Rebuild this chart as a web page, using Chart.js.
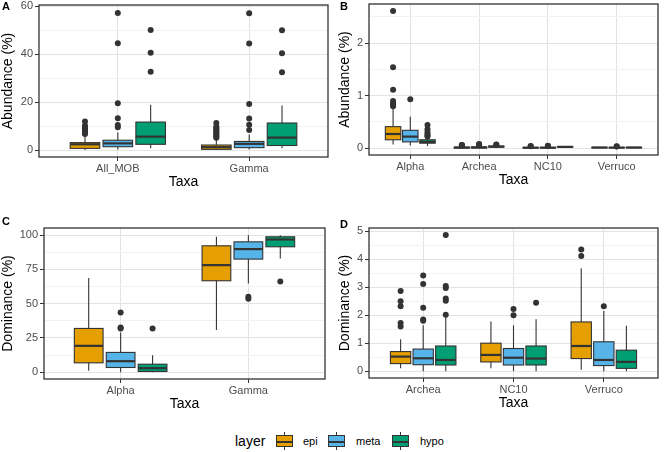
<!DOCTYPE html>
<html lang="en">
<head>
    <meta charset="UTF-8">
    <title>Abundance and dominance by layer</title>
    <script src="https://cdn.jsdelivr.net/npm/chart.js"></script>
    <style>
        body {
            margin: 0;
            width: 666px;
            height: 452px;
            background: #fff;
            position: relative;
            overflow: hidden;
            font-family: "Liberation Sans", Arial, sans-serif;
        }
        canvas { position: absolute; }
        .tag { position: absolute; font-weight: bold; font-size: 11px; color: #000; }
        .legend { position: absolute; top: 432px; height: 18px; font-size: 11px; color: #000; }
        .legend .title { position: absolute; left: 235px; top: 0; font-size: 14px; line-height: 18px; }
        .key { position: absolute; top: 0; width: 17px; height: 18px; }
        .key .whisker { position: absolute; left: 8px; width: 1px; top: 0; height: 18px; background: #333; }
        .key .box { position: absolute; left: 0; top: 3px; width: 15px; height: 10px; border: 1px solid #333; }
        .key .mid { position: absolute; left: 0; top: 5px; width: 15px; height: 2px; background: #333; }
        .lab { position: absolute; top: 0; line-height: 18px; }
    </style>
</head>
<body>
    <canvas id="panelA" width="333" height="197" style="left:0;top:0"></canvas>
    <canvas id="panelB" width="329" height="195" style="left:337px;top:0"></canvas>
    <canvas id="panelC" width="333" height="219" style="left:0;top:200px"></canvas>
    <canvas id="panelD" width="329" height="218" style="left:337px;top:200px"></canvas>

    <div class="tag" style="left:2px;top:0">A</div>
    <div class="tag" style="left:340px;top:0">B</div>
    <div class="tag" style="left:2px;top:215px">C</div>
    <div class="tag" style="left:340px;top:218px">D</div>

    <div class="legend" style="left:0;width:666px">
        <div class="title">layer</div>
        <div class="key" style="left:276px"><div class="whisker"></div><div class="box" style="background:#E69F00"><div class="mid"></div></div></div>
        <div class="lab" style="left:303px">epi</div>
        <div class="key" style="left:328px"><div class="whisker"></div><div class="box" style="background:#56B4E9"><div class="mid"></div></div></div>
        <div class="lab" style="left:356px">meta</div>
        <div class="key" style="left:392px"><div class="whisker"></div><div class="box" style="background:#009E73"><div class="mid"></div></div></div>
        <div class="lab" style="left:420px">hypo</div>
    </div>

    <script>
        // box stats per taxon: [lower whisker, Q1, median, Q3, upper whisker]
        const layers = ['epi', 'meta', 'hypo'];

        // A - abundance
        const taxaA = ['All_MOB', 'Gamma'];
        const ticksA = [0, 20, 40, 60];
        const boxA_epi = [[0, 0.7, 2.4, 3.1, 6.2], [0, 0.3, 1.2, 2.1, 4.8]];
        const boxA_meta = [[0.2, 1.4, 2.8, 4.1, 7.3], [0.2, 1.0, 2.6, 3.6, 6.5]];
        const boxA_hypo = [[0.8, 2.4, 5.6, 11.7, 18.9], [0.8, 1.9, 5.2, 11.3, 18.6]];
        const outA_epi = [[11.9, 10.2, 9.6, 9.1, 8.6, 8.1, 7.6, 7.1, 6.7], [11.3, 9.8, 9.2, 8.6, 8.0, 7.4, 6.8, 6.2, 5.6, 5.1]];
        const outA_meta = [[57.3, 44.6, 19.6, 13.3, 10.5, 9.5], [57.2, 44.5, 19.2, 13.2, 10.6, 8.4]];
        const outA_hypo = [[50.2, 40.6, 32.7], [50.0, 40.4, 32.5]];

        // B - abundance, minor taxa
        const taxaB = ['Alpha', 'Archea', 'NC10', 'Verruco'];
        const ticksB = [0, 1, 2];
        const boxB_epi = [[0.07, 0.16, 0.27, 0.41, 0.76], [0, 0.004, 0.01, 0.02, 0.04], [0, 0.004, 0.008, 0.015, 0.03], [0.004, 0.008, 0.012, 0.016, 0.022]];
        const boxB_meta = [[0.05, 0.12, 0.22, 0.34, 0.6], [0, 0.005, 0.012, 0.025, 0.045], [0, 0.004, 0.008, 0.016, 0.03], [0, 0.006, 0.01, 0.015, 0.022]];
        const boxB_hypo = [[0.04, 0.095, 0.12, 0.16, 0.2], [0.01, 0.02, 0.03, 0.04, 0.055], [0.015, 0.02, 0.025, 0.03, 0.035], [0.004, 0.008, 0.012, 0.016, 0.022]];
        const outB_epi = [[2.61, 1.54, 1.11, 0.9, 0.86, 0.83, 0.8], [0.05, 0.055, 0.06], [0.035, 0.04], []];
        const outB_meta = [[0.93], [0.06, 0.07, 0.08], [0.04, 0.045], [0.03, 0.035]];
        const outB_hypo = [[0.44, 0.36, 0.31, 0.27, 0.24, 0.22], [0.065, 0.07], [], []];

        // C - dominance
        const taxaC = ['Alpha', 'Gamma'];
        const ticksC = [0, 25, 50, 75, 100];
        const boxC_epi = [[1, 6.8, 19.2, 31.9, 68.8], [30.7, 66.7, 78.1, 92.2, 98.8]];
        const boxC_meta = [[0, 3.4, 8, 14.4, 29], [64.7, 82.5, 89.8, 95.1, 100]];
        const boxC_hypo = [[0, 0.5, 2.9, 5.8, 12.4], [83, 91.5, 96.8, 98.8, 100]];
        const outC_epi = [[], []];
        const outC_meta = [[43.6, 32.6, 31.8], [55, 53.5]];
        const outC_hypo = [[31.9], [66.2]];

        // D - dominance, minor taxa
        const taxaD = ['Archea', 'NC10', 'Verruco'];
        const ticksD = [0, 1, 2, 3, 4, 5];
        const boxD_epi = [[0.1, 0.27, 0.52, 0.7, 1.14], [0.1, 0.33, 0.58, 1.0, 1.78], [0.05, 0.45, 0.9, 1.76, 3.68]];
        const boxD_meta = [[0, 0.23, 0.46, 0.79, 1.64], [0, 0.22, 0.48, 0.81, 1.64], [0, 0.2, 0.4, 1.05, 2.15]];
        const boxD_hypo = [[0, 0.22, 0.4, 0.9, 1.95], [0, 0.22, 0.45, 0.9, 1.86], [0, 0.1, 0.33, 0.75, 1.62]];
        const outD_epi = [[2.87, 2.5, 2.32, 1.72, 1.6], [], [4.35, 4.12]];
        const outD_meta = [[3.42, 3.12, 2.27, 1.85, 1.8], [2.22, 2.0], [2.32]];
        const outD_hypo = [[4.87, 3.05, 2.97, 2.6, 2.52, 2.02], [2.45], []];

        const fills = ['#E69F00', '#56B4E9', '#009E73'];
        const ink = '#333333';
        const dodge = 0.25;      // centre offset between layers
        const halfBox = 0.1125;  // half box width in category units

        function boxPlugin(boxes) {
            return {
                id: 'boxes',
                beforeDatasetsDraw(chart) {
                    const { ctx, scales: { x, y } } = chart;
                    const half = x.getPixelForValue(1 + halfBox) - x.getPixelForValue(1);
                    ctx.save();
                    ctx.strokeStyle = ink;
                    boxes.forEach((layer, li) => {
                        layer.forEach((s, ci) => {
                            const cx = x.getPixelForValue(ci + 1 + (li - 1) * dodge);
                            const [lo, q1, med, q3, hi] = s.map(v => y.getPixelForValue(v));
                            ctx.lineWidth = 1.1;
                            ctx.beginPath();
                            ctx.moveTo(cx, lo);
                            ctx.lineTo(cx, hi);
                            ctx.stroke();
                            ctx.fillStyle = fills[li];
                            ctx.fillRect(cx - half, q3, half * 2, q1 - q3);
                            ctx.strokeRect(cx - half, q3, half * 2, q1 - q3);
                            ctx.lineWidth = 2.2;
                            ctx.beginPath();
                            ctx.moveTo(cx - half, med);
                            ctx.lineTo(cx + half, med);
                            ctx.stroke();
                        });
                    });
                    ctx.restore();
                },
                afterDraw(chart) {
                    const { ctx, chartArea: a } = chart;
                    ctx.save();
                    ctx.strokeStyle = ink;
                    ctx.lineWidth = 1.3;
                    ctx.strokeRect(a.left, a.top, a.right - a.left, a.bottom - a.top);
                    ctx.restore();
                }
            };
        }

        function makePanel(id, taxa, boxes, outliers, ticks, yMin, yMax, yTitle, lay) {
            // minor grid lines halfway between the major ticks
            const step = ticks[1] - ticks[0];
            const minor = [];
            for (let i = 0; i < ticks.length; i++) {
                const m = ticks[i] + step / 2;
                if (m < yMax) minor.push(m);
            }
            const allTicks = ticks.concat(minor).sort((a, b) => a - b);
            const isMajor = v => ticks.some(t => Math.abs(t - v) < 1e-9);

            const datasets = outliers.map((layer, li) => ({
                label: layers[li],
                data: layer.flatMap((vals, ci) => vals.map(v => ({ x: ci + 1 + (li - 1) * dodge, y: v }))),
                pointRadius: 3,
                pointHoverRadius: 3,
                backgroundColor: ink,
                borderWidth: 0
            }));

            new Chart(document.getElementById(id), {
                type: 'scatter',
                data: { datasets },
                plugins: [boxPlugin(boxes)],
                options: {
                    responsive: false,
                    animation: false,
                    events: [],
                    layout: { padding: { top: lay.top, right: lay.right, left: 0, bottom: 0 } },
                    plugins: { legend: { display: false }, tooltip: { enabled: false } },
                    scales: {
                        x: {
                            type: 'linear',
                            min: 0.4,
                            max: taxa.length + 0.6,
                            afterBuildTicks: s => { s.ticks = taxa.map((t, i) => ({ value: i + 1 })); },
                            afterFit: s => { s.height = 40; s.paddingLeft = 0; s.paddingRight = 0; },
                            border: { display: false },
                            grid: { color: '#e3e3e3', lineWidth: 1, tickLength: 4, tickColor: ink },
                            ticks: {
                                callback: v => taxa[v - 1],
                                color: '#4d4d4d',
                                font: { size: 11, family: '"Liberation Sans", Arial, sans-serif' },
                                padding: 1,
                                maxRotation: 0,
                                autoSkip: false
                            },
                            title: {
                                display: true,
                                text: 'Taxa',
                                color: '#000',
                                font: { size: 14, family: '"Liberation Sans", Arial, sans-serif' },
                                padding: { top: 0, bottom: 6 }
                            }
                        },
                        y: {
                            type: 'linear',
                            min: yMin,
                            max: yMax,
                            afterBuildTicks: s => { s.ticks = allTicks.map(v => ({ value: v })); },
                            afterFit: s => { s.width = lay.yWidth; s.paddingTop = 0; s.paddingBottom = 0; },
                            border: { display: false },
                            grid: {
                                color: c => isMajor(c.tick.value) ? '#e3e3e3' : '#f2f2f2',
                                lineWidth: 1,
                                tickLength: 4,
                                tickColor: c => isMajor(c.tick.value) ? ink : 'rgba(0,0,0,0)'
                            },
                            ticks: {
                                callback: v => isMajor(v) ? String(v) : '',
                                color: '#4d4d4d',
                                font: { size: 11, family: '"Liberation Sans", Arial, sans-serif' },
                                padding: 2,
                                autoSkip: false
                            },
                            title: {
                                display: true,
                                text: yTitle,
                                color: '#000',
                                font: { size: 14, family: '"Liberation Sans", Arial, sans-serif' },
                                padding: { top: 0, bottom: 0 }
                            }
                        }
                    }
                }
            });
        }

        makePanel('panelA', taxaA, [boxA_epi, boxA_meta, boxA_hypo], [outA_epi, outA_meta, outA_hypo],
            ticksA, -2.9, 60.6, 'Abundance (%)', { yWidth: 39, top: 5, right: 5 });
        makePanel('panelB', taxaB, [boxB_epi, boxB_meta, boxB_hypo], [outB_epi, outB_meta, outB_hypo],
            ticksB, -0.13, 2.745, 'Abundance (%)', { yWidth: 32, top: 4, right: 8 });
        makePanel('panelC', taxaC, [boxC_epi, boxC_meta, boxC_hypo], [outC_epi, outC_meta, outC_hypo],
            ticksC, -5, 105.2, 'Dominance (%)', { yWidth: 44, top: 28, right: 8 });
        makePanel('panelD', taxaD, [boxD_epi, boxD_meta, boxD_hypo], [outD_epi, outD_meta, outD_hypo],
            ticksD, -0.245, 5.12, 'Dominance (%)', { yWidth: 32, top: 28, right: 8 });
    </script>
</body>
</html>
